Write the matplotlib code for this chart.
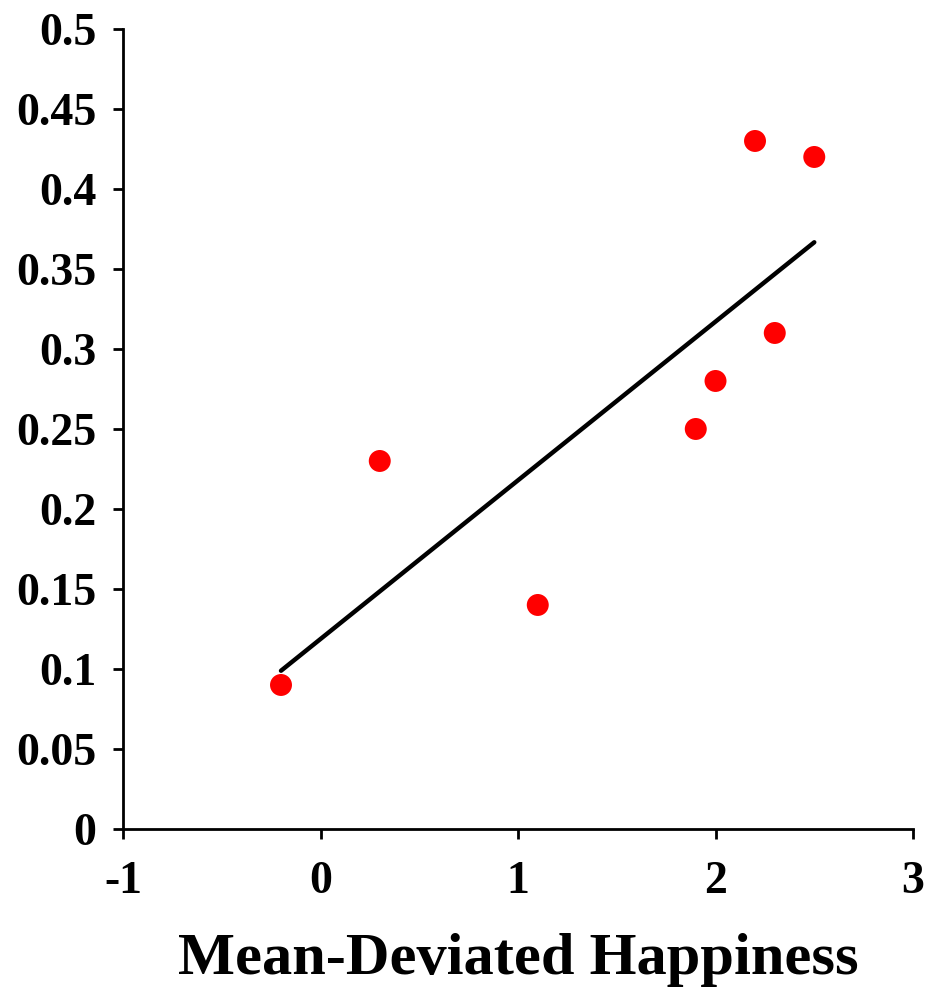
import matplotlib
matplotlib.use("Agg")
import matplotlib.pyplot as plt
import numpy as np

# values
happiness = [-0.2, 0.3, 1.1, 1.9, 2.0, 2.2, 2.3, 2.5]
outcome = [0.09, 0.23, 0.14, 0.25, 0.28, 0.43, 0.31, 0.42]
x_ticks = [-1, 0, 1, 2, 3]
y_ticks = [0, 0.05, 0.1, 0.15, 0.2, 0.25, 0.3, 0.35, 0.4, 0.45, 0.5]
y_labels = ["0", "0.05", "0.1", "0.15", "0.2", "0.25", "0.3", "0.35", "0.4", "0.45", "0.5"]

plt.rcParams["font.family"] = ["Liberation Serif", "DejaVu Serif"]
plt.rcParams["font.weight"] = "bold"

fig = plt.figure(figsize=(9.29, 9.89), dpi=100)
ax = fig.add_axes([0.1324, 0.1618, 0.8504, 0.8089])

# least-squares trend line through the points
slope, intercept = np.polyfit(happiness, outcome, 1)
xs = np.array(sorted(happiness))
ax.plot(xs, slope * xs + intercept, color="black", lw=3.2, solid_capstyle="round", zorder=2)

ax.scatter(happiness, outcome, s=250, color="#ff0000", edgecolors="none", zorder=3, clip_on=False)

ax.set_xlim(-1, 3)
ax.set_ylim(0, 0.5)
ax.set_xticks(x_ticks)
ax.set_xticklabels([str(t) for t in x_ticks])
ax.set_yticks(y_ticks)
ax.set_yticklabels(y_labels)

for side in ("top", "right"):
    ax.spines[side].set_visible(False)
for side in ("left", "bottom"):
    ax.spines[side].set_linewidth(2)

ax.tick_params(direction="out", length=7, width=2, labelsize=33)
ax.tick_params(axis="y", pad=12)
ax.tick_params(axis="x", pad=16)
ax.set_xlabel("Mean-Deviated Happiness", fontsize=43.5, fontweight="bold", labelpad=22)

fig.savefig("out.png", dpi=100)
